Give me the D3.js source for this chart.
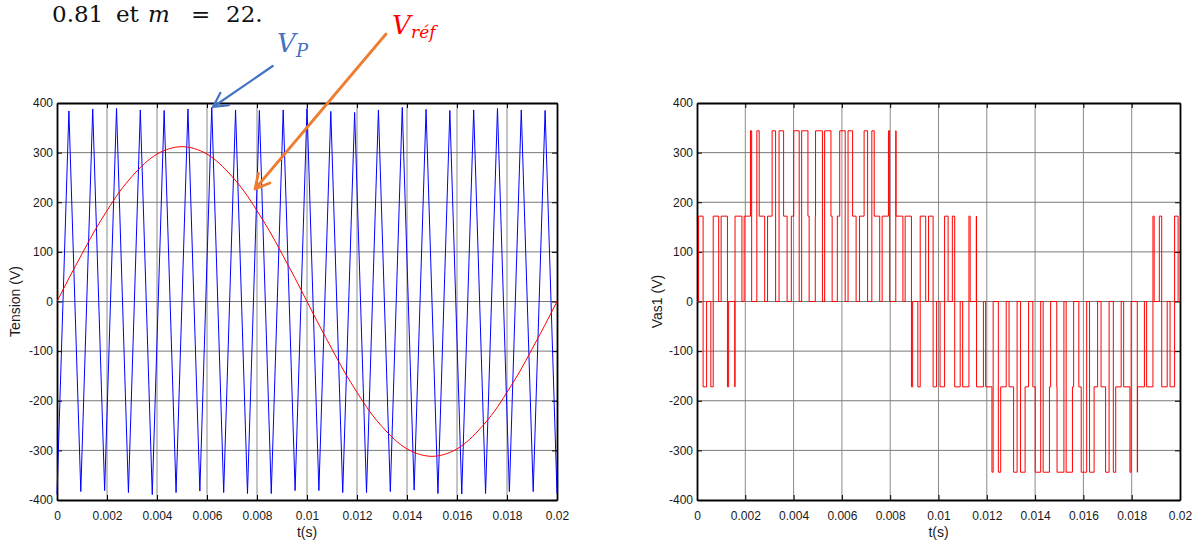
<!DOCTYPE html>
<html>
<head>
<meta charset="utf-8">
<script src="https://cdnjs.cloudflare.com/ajax/libs/d3/7.8.5/d3.min.js"></script>
<style>
  body { margin: 0; background: #fff; }
  svg { display: block; }
  .axis text { font-family: "Liberation Sans", Arial, sans-serif; font-size: 12px; fill: #1a1a1a; }
  .axis path, .axis line { stroke: #000; }
  .lbl { font-family: "Liberation Sans", Arial, sans-serif; font-size: 14px; fill: #1a1a1a; }
  .math { font-family: "DejaVu Serif", "Liberation Serif", serif; }
</style>
</head>
<body>
<svg width="1195" height="542"></svg>
<script>
let svg = d3.select("svg")

// axis ticks
let tTicks = [0, 0.002, 0.004, 0.006, 0.008, 0.01, 0.012, 0.014, 0.016, 0.018, 0.02]
let tTickLabels = ["0", "0.002", "0.004", "0.006", "0.008", "0.01", "0.012", "0.014", "0.016", "0.018", "0.02"]
let vTicks = [-400, -300, -200, -100, 0, 100, 200, 300, 400]

// left panel: carrier V_P (vertices, time in ms)
let carrierT = [0, 0.476, 0.952, 1.429, 1.905, 2.381, 2.857, 3.333, 3.810, 4.286, 4.762,
  5.238, 5.714, 6.190, 6.667, 7.143, 7.619, 8.095, 8.571, 9.048, 9.524, 10.000,
  10.476, 10.952, 11.429, 11.905, 12.381, 12.857, 13.333, 13.810, 14.286, 14.762,
  15.238, 15.714, 16.190, 16.667, 17.143, 17.619, 18.095, 18.571, 19.048, 19.524, 20.000]
let carrierV = [-388, 384, -383, 388, -381, 389, -385, 386, -389, 385, -385,
  388, -382, 391, -385, 386, -387, 385, -387, 386, -381, 389,
  -381, 383, -385, 381, -385, 386, -383, 391, -380, 387,
  -387, 385, -388, 386, -387, 389, -383, 386, -383, 385, -387]

// left panel: reference V_ref (time in ms)
let refT = [0, 0.5, 1, 1.5, 2, 2.5, 3, 3.5, 4, 4.5, 5, 5.5, 6, 6.5, 7, 7.5, 8, 8.5, 9, 9.5, 10,
  10.5, 11, 11.5, 12, 12.5, 13, 13.5, 14, 14.5, 15, 15.5, 16, 16.5, 17, 17.5, 18, 18.5, 19, 19.5, 20]
let refV = [0, 49, 96, 142, 183, 221, 252, 278, 297, 308, 312, 308, 297, 278, 252, 221, 183, 142, 96, 49, 0,
  -49, -96, -142, -183, -221, -252, -278, -297, -308, -312, -308, -297, -278, -252, -221, -183, -142, -96, -49, 0]

// right panel: Vas1 switching instants (ms) and level held after each
let vasT = [0,
  0.0643, 0.2525, 0.3975, 0.5729, 0.6714, 0.8986,
  0.9998, 1.2609, 1.3107, 1.5650, 1.5751, 1.8595,
  1.9522, 2.2133, 2.2631, 2.4777, 2.5762, 2.8034,
  2.9215, 3.1096, 3.2546, 3.3977, 3.5858, 3.7308,
  3.9062, 4.0047, 4.2319, 4.3331, 4.5942, 4.6440,
  4.8983, 4.9084, 5.1929, 5.2855, 5.5466, 5.5964,
  5.8110, 5.9095, 6.1367, 6.2548, 6.4430, 6.5879,
  6.7310, 6.9192, 7.0641, 7.2396, 7.3381, 7.5653,
  7.6664, 7.9276, 7.9774, 8.2316, 8.2417, 8.5262,
  8.6188, 8.8799, 8.9297, 9.1443, 9.2428, 9.4700,
  9.5881, 9.7763, 9.9213,
  10.0643, 10.2525, 10.3975, 10.5729, 10.6714, 10.8986,
  10.9998, 11.2609, 11.3107, 11.5650, 11.5751, 11.8595,
  11.9522, 12.2133, 12.2631, 12.4777, 12.5762, 12.8034,
  12.9215, 13.1096, 13.2546, 13.3977, 13.5858, 13.7308,
  13.9062, 14.0047, 14.2319, 14.3331, 14.5942, 14.6440,
  14.8983, 14.9084, 15.1929, 15.2855, 15.5466, 15.5964,
  15.8110, 15.9095, 16.1367, 16.2548, 16.4430, 16.5879,
  16.7310, 16.9192, 17.0641, 17.2396, 17.3381, 17.5653,
  17.6664, 17.9276, 17.9774, 18.2316, 18.2417, 18.5262,
  18.6188, 18.8799, 18.9297, 19.1443, 19.2428, 19.4700,
  19.5881, 19.7763, 19.9213, 20]
let vasV = [0,
  172, -172, 0, -172, 172, 0,
  172, -172, 0, -172, 172, 0,
  172, 344, 0, 344, 172, 0,
  172, 344, 0, 344, 172, 0,
  172, 344, 0, 344, 172, 0,
  172, 344, 0, 344, 172, 0,
  172, 344, 0, 344, 172, 0,
  172, 344, 0, 344, 172, 0,
  172, 344, 0, 344, 172, 0,
  172, -172, 0, -172, 172, 0,
  172, -172, 0,
  -172, 172, 0, 172, -172, 0,
  -172, 172, 0, 172, -172, 0,
  -172, -344, 0, -344, -172, 0,
  -172, -344, 0, -344, -172, 0,
  -172, -344, 0, -344, -172, 0,
  -172, -344, 0, -344, -172, 0,
  -172, -344, 0, -344, -172, 0,
  -172, -344, 0, -344, -172, 0,
  -172, -344, 0, -344, -172, 0,
  -172, 172, 0, 172, -172, 0,
  -172, 172, 0, 0]

function panel(box, yLabel, labelX){
  let x = d3.scaleLinear().domain([0, 0.02]).range([box.left, box.right])
  let y = d3.scaleLinear().domain([-400, 400]).range([box.bottom, box.top])
  let g = svg.append("g")

  // grid
  g.selectAll(".vg").data(tTicks.slice(1, -1)).enter().append("line")
    .attr("x1", d=>x(d)).attr("x2", d=>x(d))
    .attr("y1", box.top).attr("y2", box.bottom)
    .attr("stroke", "#8a8a8a").attr("stroke-width", 1)
  g.selectAll(".hg").data(vTicks.slice(1, -1)).enter().append("line")
    .attr("x1", box.left).attr("x2", box.right)
    .attr("y1", d=>y(d)).attr("y2", d=>y(d))
    .attr("stroke", "#7a7a7a").attr("stroke-width", 1)

  let fmt = (d, i)=>tTickLabels[i]
  g.append("g").attr("class", "axis")
    .attr("transform", "translate(0," + box.bottom + ")")
    .call(d3.axisBottom(x).tickValues(tTicks).tickFormat(fmt).tickSizeInner(-5).tickSizeOuter(0).tickPadding(11))
  g.append("g").attr("class", "axis")
    .attr("transform", "translate(0," + box.top + ")")
    .call(d3.axisTop(x).tickValues(tTicks).tickFormat("").tickSizeInner(-5).tickSizeOuter(0))
  g.append("g").attr("class", "axis")
    .attr("transform", "translate(" + box.left + ",0)")
    .call(d3.axisLeft(y).tickValues(vTicks).tickFormat(d=>String(d)).tickSizeInner(-5).tickSizeOuter(0).tickPadding(4))
  g.append("g").attr("class", "axis")
    .attr("transform", "translate(" + box.right + ",0)")
    .call(d3.axisRight(y).tickValues(vTicks).tickFormat("").tickSizeInner(-5).tickSizeOuter(0))
  g.selectAll(".axis .domain").attr("stroke-width", 1.8)

  g.append("text").attr("class", "lbl")
    .attr("x", (box.left + box.right) / 2).attr("y", 537)
    .attr("text-anchor", "middle").text("t(s)")
  g.append("text").attr("class", "lbl")
    .attr("transform", "translate(" + labelX + "," + ((box.top + box.bottom) / 2) + ") rotate(-90)")
    .attr("text-anchor", "middle").text(yLabel)

  return {x, y, g}
}

// left chart
let L = panel({left: 57, right: 557, top: 103, bottom: 500}, "Tension (V)", 19.5)
let carrier = carrierT.map((t, i)=>({t: t, v: carrierV[i]}))
let ref = refT.map((t, i)=>({t: t, v: refV[i]}))
L.g.append("path").datum(carrier)
  .attr("fill", "none").attr("stroke", "#0000ff").attr("stroke-width", 1)
  .attr("d", d3.line().x(d=>L.x(d.t / 1000)).y(d=>L.y(d.v)))
L.g.append("path").datum(ref)
  .attr("fill", "none").attr("stroke", "#ff0000").attr("stroke-width", 1)
  .attr("d", d3.line().curve(d3.curveNatural).x(d=>L.x(d.t / 1000)).y(d=>L.y(d.v)))

// right chart
let R = panel({left: 697, right: 1180, top: 103, bottom: 500}, "Vas1 (V)", 661.5)
let vas = vasT.map((t, i)=>({t: t, v: vasV[i]}))
R.g.append("path").datum(vas)
  .attr("fill", "none").attr("stroke", "#ff0000").attr("stroke-width", 1)
  .attr("d", d3.line().curve(d3.curveStepAfter).x(d=>R.x(d.t / 1000)).y(d=>R.y(d.v)))

// line of text above the figure
let header = svg.append("g").attr("class", "math").attr("font-size", 23).attr("fill", "#111")
header.append("text").attr("x", 52).attr("y", 21.5).text("0.81")
header.append("text").attr("x", 116).attr("y", 21.5).text("et")
header.append("text").attr("x", 148).attr("y", 21.5).attr("font-style", "italic").text("m")
header.append("text").attr("x", 191).attr("y", 21.5).text("=")
header.append("text").attr("x", 226).attr("y", 21.5).text("22.")

// annotations
function arrow(from, to, color, w){
  let a = Math.atan2(from[1] - to[1], from[0] - to[0])
  let len = 16, spread = 28 * Math.PI / 180
  let p = d3.path()
  p.moveTo(from[0], from[1]); p.lineTo(to[0], to[1])
  p.moveTo(to[0] + len * Math.cos(a - spread), to[1] + len * Math.sin(a - spread))
  p.lineTo(to[0], to[1])
  p.lineTo(to[0] + len * Math.cos(a + spread), to[1] + len * Math.sin(a + spread))
  svg.append("path").attr("d", p.toString())
    .attr("fill", "none").attr("stroke", color).attr("stroke-width", w)
    .attr("stroke-linecap", "round").attr("stroke-linejoin", "round")
}
arrow([272.7, 66], [213, 107], "#4472c4", 2.2)
arrow([386, 34], [255, 189], "#ed7d31", 2.8)

let vp = svg.append("g").attr("class", "math").attr("font-style", "italic").attr("fill", "#4472c4")
vp.append("text").attr("x", 277).attr("y", 52).attr("font-size", 26).text("V")
vp.append("text").attr("x", 296).attr("y", 57).attr("font-size", 18).text("P")

let vr = svg.append("g").attr("class", "math").attr("font-style", "italic").attr("fill", "#ff0000")
vr.append("text").attr("x", 392).attr("y", 33.5).attr("font-size", 26).text("V")
vr.append("text").attr("x", 411).attr("y", 38).attr("font-size", 17).text("réf")
</script>
</body>
</html>
